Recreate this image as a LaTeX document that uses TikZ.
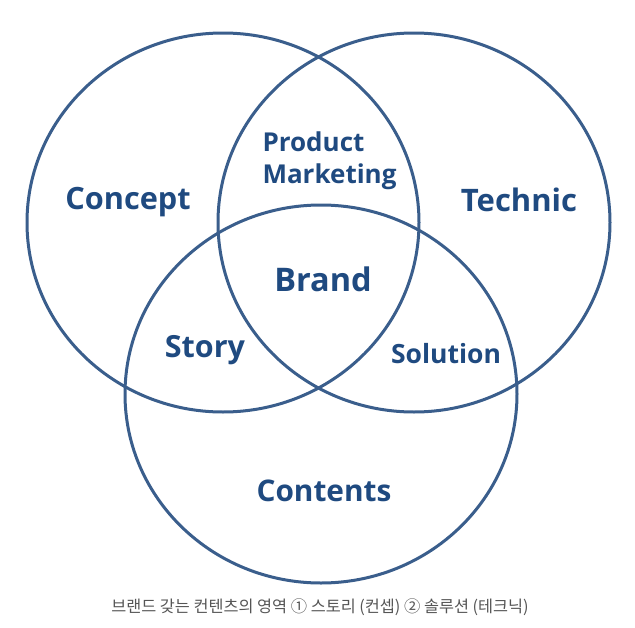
\documentclass[tikz,border=0pt]{standalone}
\usepackage{fontspec}
\setmainfont{Open Sans}
\newfontfamily\krfont{Noto Sans CJK KR}
\definecolor{ringblue}{HTML}{3A5E8C}
\definecolor{txtblue}{HTML}{1F4A80}
\definecolor{capgray}{HTML}{555555}
\begin{document}
\begin{tikzpicture}[x=1pt,y=-1pt,
  ring/.style={draw=ringblue,line width=3pt},
  lbl/.style={text=txtblue,font=\bfseries,inner sep=0pt,align=center},
  captxt/.style={text=capgray,font=\krfont\fontsize{16.3}{18}\selectfont,inner sep=0pt}]
\useasboundingbox (0,0) rectangle (635,627);
\draw[ring] (223,222.5) ellipse [x radius=196, y radius=189.5];
\draw[ring] (414,222.5) ellipse [x radius=196, y radius=189.5];
\draw[ring] (321,394) ellipse [x radius=196, y radius=189];
\node[lbl,font=\bfseries\fontsize{30.7}{30}\selectfont] (concept) at (128,202) {Concept};
\node[lbl,font=\bfseries\fontsize{31}{30}\selectfont] (technic) at (519,200) {Technic};
\node[lbl,align=left,font=\bfseries\fontsize{26}{32}\selectfont] (product) at (329.5,161) {Product\\Marketing};
\node[lbl,font=\bfseries\fontsize{32.5}{30}\selectfont] (brand) at (323,279) {Brand};
\node[lbl,font=\bfseries\fontsize{30.5}{30}\selectfont] (story) at (205,350) {Story};
\node[lbl,font=\bfseries\fontsize{26.5}{30}\selectfont] (solution) at (446,354) {Solution};
\node[lbl,font=\bfseries\fontsize{29.8}{30}\selectfont] (contents) at (324,491) {Contents};
\node[captxt] (caption) at (320,607) {브랜드 갖는 컨텐츠의 영역 ① 스토리 (컨셉) ② 솔루션 (테크닉)};
\end{tikzpicture}
\end{document}
